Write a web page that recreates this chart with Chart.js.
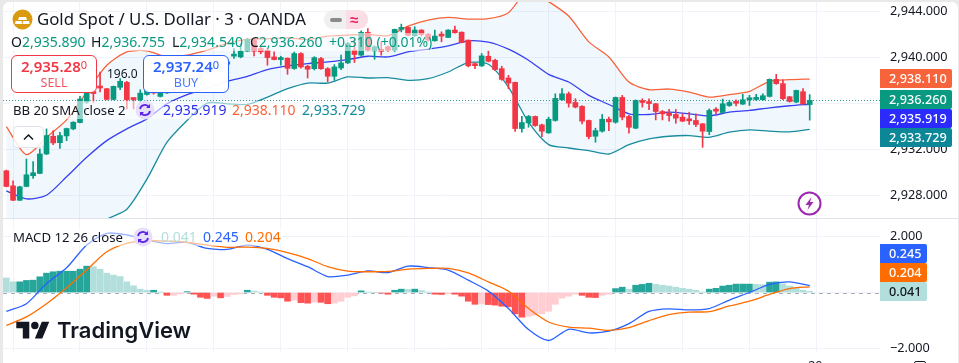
<!DOCTYPE html>
<html>
<head>
<meta charset="utf-8">
<script src="https://cdn.jsdelivr.net/npm/chart.js@4"></script>
<style>
  html, body { margin: 0; padding: 0; width: 959px; height: 363px; overflow: hidden; background: #e9e9e9; }
  body { font-family: "Noto Sans", sans-serif; color: #131722; }
  #frame { position: absolute; left: 3px; top: 2px; width: 955px; height: 361px; background: #fff; border-radius: 6px 6px 0 0; }
  canvas { position: absolute; left: 3px; }
  .txt { position: absolute; white-space: pre; line-height: 18px; font-size: 14px; }
  .bg { position: absolute; height: 18px; background: rgba(255,255,255,.55); }
  .g { color: #089981; }
  .tag { position: absolute; left: 880px; width: 72px; height: 19px; line-height: 19px; color: #fff; font-size: 12.7px; font-weight: 500; padding-left: 9px; box-sizing: border-box; border-radius: 0 2px 2px 0; }
  .box { position: absolute; top: 55px; width: 86px; height: 38px; box-sizing: border-box; border: 1px solid; border-radius: 6px; background: rgba(255,255,255,.97); text-align: center; font-size: 15px; line-height: 18px; padding-top: 1px; }
  .box sup { font-size: 11px; line-height: 0; vertical-align: 3px; }
  .box b { font-weight: 600; }
  .box div { font-size: 12.5px; line-height: 16px; opacity: .85; }
  svg { position: absolute; }
</style>
</head>
<body>
<div id="frame"></div>
<canvas id="graficoPrecio" width="956" height="216" style="top:2px"></canvas>
<canvas id="graficoMacd" width="956" height="133" style="top:219px"></canvas>
<div style="position:absolute;left:3px;top:218px;width:955px;height:1px;background:#e0e3eb"></div>

<!-- leyenda superior -->
<svg style="left:12px;top:9px" width="21" height="21" viewBox="0 0 21 21"><circle cx="10.5" cy="10.5" r="10" fill="#d99a10"/><path d="M7 8h7l1 3H6zM3.5 12h6l.7 3H3zM11 12h6l.7 3H10.500z" fill="#fff"/></svg>
<div class="txt" style="left:37px;top:9px;font-size:16.8px;line-height:20px">Gold Spot / U.S. Dollar · 3 · OANDA</div>
<div style="position:absolute;left:324px;top:10px;width:22px;height:19px;background:#f0f0f0;border-radius:9px 0 0 9px"></div>
<div style="position:absolute;left:346px;top:10px;width:22px;height:19px;background:#fbdde5;border-radius:0 9px 9px 0"></div>
<div style="position:absolute;left:330px;top:18px;width:12px;height:4px;background:#8a8a8a;border-radius:2px"></div>
<div class="txt" style="left:350px;top:10px;color:#e91e63;font-size:15px;font-weight:600">≈</div>

<div class="bg" style="left:10px;top:33px;width:422px"></div>
<div class="txt" style="left:11px;top:33px">O<span class="g">2,935.890</span></div>
<div class="txt" style="left:91px;top:33px">H<span class="g">2,936.755</span></div>
<div class="txt" style="left:172px;top:33px">L<span class="g">2,934.540</span></div>
<div class="txt" style="left:250px;top:33px">C<span class="g">2,936.260</span></div>
<div class="txt g" style="left:329px;top:33px">+0.310 (+0.01%)</div>

<div class="box" style="left:11px;color:#f23645;border-color:#f23645"><b>2,935.28</b><sup>0</sup><div>SELL</div></div>
<div class="txt" style="left:107px;top:65px;font-size:12px">196.0</div>
<div class="box" style="left:143px;color:#2962ff;border-color:#2962ff"><b>2,937.24</b><sup>0</sup><div>BUY</div></div>

<div class="bg" style="left:10px;top:101px;width:356px"></div>
<div class="txt" style="left:13px;top:101px;font-size:13.2px">BB 20 SMA close 2</div>
<div class="txt" style="left:163px;top:101px;color:#2f2fe8">2,935.919</div>
<div class="txt" style="left:232px;top:101px;color:#f7633a">2,938.110</div>
<div class="txt" style="left:302px;top:101px;color:#0f8a9b">2,933.729</div>
<svg style="left:135px;top:100px" width="20" height="20" viewBox="0 0 20 20"><circle cx="10" cy="10" r="9.500" fill="#e6dffb"/><path d="M5 9a5 5 0 0 1 9-2M15 11a5 5 0 0 1-9 2" fill="none" stroke="#5b21e6" stroke-width="1.800"/><path d="M15 4v4h-4zM5 16v-4h4z" fill="#5b21e6"/></svg>

<div style="position:absolute;left:13px;top:126px;width:31px;height:22px;box-sizing:border-box;background:rgba(255,255,255,.85);border:1px solid #e0e3eb;border-radius:4px"></div>
<svg style="left:23px;top:133px" width="11" height="8" viewBox="0 0 11 8"><path d="M1 6.500l4.500-4.500 4.500 4.500" fill="none" stroke="#131722" stroke-width="1.500"/></svg>

<svg style="left:797px;top:191px" width="25" height="25" viewBox="0 0 25 25"><circle cx="12.500" cy="12.500" r="11" fill="#fff" stroke="#9c27b0" stroke-width="2"/><path d="M14.500 6l-6 8h3.500l-1.500 5 6-8h-3.500z" fill="#9c27b0"/></svg>

<!-- etiquetas de precio -->
<div class="tag" style="top:69px;background:#f7633a">2,938.110</div>
<div class="tag" style="top:90px;background:#089981">2,936.260</div>
<div class="tag" style="top:109px;background:#2b2bff">2,935.919</div>
<div class="tag" style="top:128px;background:#0b8797">2,933.729</div>

<!-- leyenda MACD -->
<div class="bg" style="left:10px;top:228px;width:272px"></div>
<div class="txt" style="left:13px;top:228px;font-size:13.2px">MACD 12 26 close</div>
<div class="txt" style="left:161px;top:228px;color:#b2dfdb">0.041</div>
<div class="txt" style="left:203px;top:228px;color:#2962ff">0.245</div>
<div class="txt" style="left:245px;top:228px;color:#ff6d00">0.204</div>
<svg style="left:133px;top:227px" width="20" height="20" viewBox="0 0 20 20"><circle cx="10" cy="10" r="9.500" fill="#e6dffb"/><path d="M5 9a5 5 0 0 1 9-2M15 11a5 5 0 0 1-9 2" fill="none" stroke="#5b21e6" stroke-width="1.800"/><path d="M15 4v4h-4zM5 16v-4h4z" fill="#5b21e6"/></svg>

<div class="tag" style="top:244px;width:47px;background:#2962ff">0.245</div>
<div class="tag" style="top:263px;width:47px;background:#ff6d00">0.204</div>
<div class="tag" style="top:282px;width:47px;background:#b2dfdb;color:#131722">0.041</div>

<!-- logo -->
<svg style="left:16px;top:318px" width="34" height="26" viewBox="0 0 36 28"><path d="M14 22H7V11H0V4h14v18zM28 22h-8l7.500-18h8L28 22z" fill="#131722"/><circle cx="20" cy="8" r="4" fill="#131722"/></svg>
<div class="txt" style="left:57px;top:316px;font-family:Inter;font-weight:600;font-size:22px;line-height:28px">TradingView</div>

<!-- eje de tiempo, cortado por el borde inferior -->
<div class="txt" style="left:808px;top:356px;font-size:12.7px">20</div>
<div style="position:absolute;left:914px;top:361px;width:10px;height:8px;border:1px solid #131722;border-radius:2px"></div>

<script>
// Velas de 3 minutos
const aperturas = [
  2930.14,2928.83,2927.58,2928.78,2929.71,2929.91,2931.60,2933.14,2932.58,2933.17,
  2933.78,2934.33,2936.11,2936.95,2937.38,2937.27,2936.34,2937.39,2937.82,2936.37,
  2936.31,2936.77,2937.15,2936.60,2936.90,2937.30,2937.10,2937.80,2938.20,2938.00,
  2938.60,2939.00,2938.80,2939.40,2940.10,2940.03,2940.53,2941.49,2940.76,2940.61,
  2940.03,2939.80,2939.92,2939.02,2940.32,2939.22,2939.01,2939.89,2939.01,2938.35,
  2939.07,2939.51,2940.61,2940.18,2942.16,2940.56,2940.56,2940.91,2940.61,2942.42,
  2942.59,2941.87,2942.36,2942.01,2941.43,2941.87,2941.72,2942.36,2942.18,2941.49,
  2939.30,2939.25,2940.09,2939.74,2939.01,2938.20,2937.82,2933.81,2934.30,2934.86,
  2934.13,2933.43,2934.51,2936.31,2936.83,2936.07,2935.73,2934.51,2933.14,2933.58,
  2934.62,2934.36,2936.51,2934.86,2933.84,2936.17,2936.07,2935.96,2935.29,2935.15,
  2935.03,2934.80,2934.51,2934.51,2934.22,2933.55,2935.47,2935.20,2935.81,2936.07,
  2935.93,2936.31,2936.34,2936.31,2936.60,2938.08,2937.71,2936.57,2936.11,2937.01,2935.89
];
const maximos = [
  2930.20,2929.27,2928.80,2931.16,2930.93,2932.03,2933.78,2933.63,2933.49,2933.85,
  2934.40,2936.60,2937.10,2937.00,2938.72,2937.30,2937.50,2938.14,2937.90,2936.40,
  2937.18,2937.25,2937.30,2937.00,2937.40,2937.40,2937.90,2938.30,2938.30,2938.70,
  2939.10,2939.10,2939.50,2939.80,2940.76,2941.20,2941.65,2941.60,2940.90,2940.75,
  2940.47,2940.09,2939.95,2940.45,2940.40,2939.30,2940.05,2940.00,2939.10,2939.36,
  2940.18,2941.30,2941.55,2942.30,2942.50,2941.00,2941.34,2941.00,2942.45,2942.88,
  2942.65,2942.65,2942.40,2942.05,2942.36,2942.21,2942.40,2942.71,2942.20,2941.50,
  2939.51,2940.32,2940.53,2939.85,2939.22,2938.43,2937.85,2934.86,2934.95,2934.90,
  2934.20,2934.80,2936.83,2937.27,2936.98,2936.40,2935.80,2934.55,2933.84,2935.03,
  2934.80,2936.55,2936.69,2934.95,2936.30,2936.40,2936.40,2936.00,2935.38,2935.47,
  2935.47,2935.10,2935.23,2935.09,2934.25,2935.52,2935.62,2936.37,2936.25,2936.31,
  2936.78,2936.69,2936.78,2936.83,2938.12,2938.52,2938.05,2936.60,2937.15,2937.27,2936.755
];
const minimos = [
  2928.75,2927.55,2927.55,2928.75,2929.47,2929.88,2931.55,2932.41,2932.09,2932.76,
  2933.70,2934.30,2936.00,2936.10,2936.98,2936.30,2936.30,2937.18,2935.52,2935.52,
  2935.52,2936.70,2936.80,2936.55,2936.85,2937.00,2937.05,2937.70,2937.90,2937.95,
  2938.50,2938.70,2938.70,2939.30,2939.89,2939.95,2940.50,2940.12,2940.30,2939.31,
  2939.78,2939.31,2938.52,2938.95,2939.05,2938.20,2938.90,2938.95,2937.85,2938.00,
  2938.93,2939.45,2939.54,2940.10,2940.55,2939.83,2940.18,2940.50,2940.50,2942.21,
  2941.85,2941.80,2941.85,2941.40,2941.40,2941.34,2941.70,2942.10,2941.25,2939.16,
  2939.01,2939.20,2939.60,2938.85,2938.00,2937.27,2933.55,2933.49,2933.92,2934.00,
  2933.11,2933.40,2934.45,2936.25,2935.67,2935.60,2934.22,2932.91,2932.62,2933.50,
  2933.63,2934.27,2934.56,2933.40,2933.80,2935.67,2935.44,2934.56,2934.56,2934.45,
  2934.27,2934.40,2934.16,2933.98,2932.18,2933.28,2935.09,2935.15,2935.73,2935.78,
  2935.90,2935.81,2936.25,2936.25,2936.55,2937.65,2936.31,2936.10,2936.05,2935.90,2934.54
];
const cierres = [
  2928.78,2927.58,2928.75,2929.79,2929.97,2931.60,2933.20,2932.56,2933.20,2933.81,
  2934.36,2936.37,2936.89,2936.85,2937.33,2936.34,2937.47,2937.91,2936.31,2936.33,
  2936.89,2937.18,2936.90,2936.89,2937.30,2937.10,2937.80,2938.20,2938.00,2938.60,
  2939.00,2938.80,2939.40,2939.60,2940.15,2940.53,2941.55,2940.53,2940.47,2939.97,
  2939.80,2939.83,2939.04,2940.32,2939.16,2938.96,2939.97,2939.01,2938.35,2939.16,
  2939.51,2941.20,2940.24,2942.16,2940.61,2940.91,2940.52,2940.61,2942.42,2942.56,
  2941.92,2942.36,2941.98,2941.49,2941.84,2941.84,2942.36,2942.13,2941.28,2939.25,
  2939.27,2940.12,2939.65,2938.93,2938.08,2937.76,2933.81,2934.33,2934.86,2934.07,
  2933.58,2934.62,2936.43,2936.83,2936.02,2935.67,2934.45,2933.11,2933.63,2934.62,
  2934.39,2936.51,2934.80,2933.92,2936.25,2936.07,2935.98,2935.29,2935.09,2934.94,
  2934.71,2934.45,2934.48,2934.16,2933.58,2935.38,2935.32,2935.96,2936.07,2936.00,
  2936.31,2936.40,2936.40,2936.66,2938.08,2937.71,2936.40,2936.16,2937.12,2935.96,2936.26
];

// Lineas leidas cada tres velas
const barrasLinea = [0,3,6,9,12,15,18,21,24,27,30,33,36,39,42,45,48,51,54,57,60,63,66,69,72,75,78,81,84,87,90,93,96,99,102,105,108,111,114,117,120];
const bbSuperior = [
  2933.98,2931.54,2933.05,2934.56,2936.98,2939.31,2940.47,2940.56,2940.03,2940.18,2940.61,2941.20,2941.55,2941.60,2941.69,2941.55,
  2941.84,2941.92,2941.98,2941.87,2942.71,2943.23,2943.46,2943.32,2943.35,2943.87,2945.85,2944.83,2943.58,2941.34,2940.03,2937.85,
  2937.18,2937.24,2936.98,2936.54,2936.75,2937.04,2937.91,2938.05,2938.11
];
const bbMedia = [
  2928.40,2927.70,2928.02,2929.62,2931.31,2932.76,2933.78,2934.65,2935.96,2936.75,2937.33,2937.91,2938.35,2938.93,2939.25,2939.45,
  2939.60,2939.80,2940.09,2940.03,2940.47,2940.70,2940.99,2941.43,2941.31,2940.70,2939.74,2938.52,2937.85,2936.69,2935.90,2935.09,
  2935.03,2935.23,2935.09,2934.91,2935.23,2935.38,2935.61,2935.79,2935.919
];
const bbInferior = [
  2922.87,2919.38,2918.80,2921.71,2924.62,2925.93,2926.80,2929.42,2932.62,2934.51,2936.02,2935.96,2935.90,2936.54,2937.27,2937.76,
  2937.76,2938.29,2938.20,2938.23,2938.00,2938.14,2938.72,2939.54,2939.39,2937.41,2934.36,2932.41,2932.12,2931.89,2931.60,2932.41,
  2932.91,2933.14,2933.20,2933.05,2933.49,2933.69,2933.58,2933.52,2933.729
];
const macdLinea = [
  -0.67,-0.40,0.32,0.88,1.69,2.11,2.05,1.87,1.74,1.79,1.57,1.54,1.69,1.54,1.21,0.92,
  0.57,0.62,0.77,0.71,0.94,0.89,0.80,0.44,0.05,-0.57,-1.32,-1.71,-1.31,-1.44,-1.38,-1.11,
  -0.67,-0.58,-0.62,-0.57,-0.27,0.00,0.29,0.38,0.245
];
const senalLinea = [
  -1.17,-0.87,-0.40,0.17,0.80,1.45,1.75,1.85,1.83,1.79,1.69,1.61,1.62,1.57,1.42,1.21,
  0.92,0.76,0.74,0.75,0.83,0.86,0.86,0.70,0.38,0.05,-0.57,-1.05,-1.23,-1.27,-1.35,-1.25,
  -1.00,-0.79,-0.70,-0.68,-0.48,-0.31,-0.07,0.14,0.204
];
const histograma = [
  0.52,0.38,0.38,0.43,0.44,0.56,0.69,0.74,0.76,0.76,
  0.76,0.83,0.94,0.92,0.83,0.69,0.62,0.57,0.38,0.24,
  0.12,0.08,0.08,0.01,-0.10,-0.10,-0.05,0.03,-0.06,-0.17,
  -0.21,-0.13,-0.19,-0.14,-0.07,-0.05,0.08,0.05,0.02,-0.10,
  -0.17,-0.19,-0.31,-0.27,-0.36,-0.38,-0.34,-0.35,-0.40,-0.38,
  -0.31,-0.17,-0.12,0.06,0.01,0,-0.02,-0.06,0.08,0.12,
  0.11,0.12,0.07,0.01,-0.06,-0.07,-0.04,-0.06,-0.13,-0.31,
  -0.42,-0.40,-0.43,-0.45,-0.49,-0.51,-0.76,-0.88,-0.85,-0.81,
  -0.76,-0.67,-0.42,-0.20,-0.13,-0.06,-0.10,-0.17,-0.18,-0.10,
  -0.06,0.14,0.19,0.12,0.26,0.29,0.33,0.29,0.26,0.23,
  0.19,0.15,0.12,0.08,0.01,0.12,0.15,0.23,0.26,0.30,
  0.30,0.30,0.29,0.28,0.37,0.38,0.31,0.23,0.19,0.08,0.041
];

const ticksPrecio = [2944, 2940, 2936, 2932, 2928];
const ticksMacd = [2, 0, -2];
const ultimoCierre = 2936.26;

// Colores
const verde = "#089981";
const rojo = "#f23645";
const colorGrid = "#f0f3fa";
const fuente = { family: "Noto Sans", size: 12.7 };

// 131 posiciones: las velas y el hueco a la derecha
const etiquetas = Array.from({ length: 131 }, (_, i) => String(i));

const puntos = (valores) => barrasLinea.map((b, k) => ({ x: etiquetas[b], y: valores[k] }));
const colorVela = aperturas.map((o, i) => (cierres[i] >= o ? verde : rojo));

const colorHist = histograma.map((h, i) => {
  const previo = i ? histograma[i - 1] : h + 1;
  if (h >= 0) return h >= previo ? "#26a69a" : "#b2dfdb";
  return h < previo ? "#ff5252" : "#ffcdd2";
});

const ejeX = {
  offset: true,
  border: { display: false },
  ticks: { display: false, autoSkip: false },
  grid: {
    offset: false,
    drawTicks: false,
    color: (ctx) => (ctx.index % 10 === 1 ? colorGrid : "transparent")
  }
};

function ejeY(min, max, valores, formato) {
  return {
    position: "right",
    min, max,
    border: { display: false },
    grid: { color: colorGrid, drawTicks: false },
    ticks: { font: fuente, color: "#131722", padding: 10, callback: formato, autoSkip: false },
    afterBuildTicks: (eje) => { eje.ticks = valores.map((v) => ({ value: v })); },
    afterFit: (eje) => { eje.width = 79; eje.paddingTop = 0; eje.paddingBottom = 0; }
  };
}

const lineaHorizontal = (id, valor, color, guiones) => ({
  id,
  beforeDatasetsDraw(chart) {
    const { ctx, chartArea, scales } = chart;
    const y = Math.round(scales.y.getPixelForValue(valor)) + 0.5;
    ctx.save();
    ctx.strokeStyle = color;
    ctx.setLineDash(guiones);
    ctx.beginPath();
    ctx.moveTo(chartArea.left, y);
    ctx.lineTo(chartArea.right, y);
    ctx.stroke();
    ctx.restore();
  }
});

const linea = (valores, color, extra) => ({
  type: "line",
  data: puntos(valores),
  borderColor: color,
  borderWidth: 1.3,
  pointRadius: 0,
  tension: 0.25,
  order: 3,
  ...extra
});

new Chart(document.getElementById("graficoPrecio"), {
  type: "bar",
  data: {
    labels: etiquetas,
    datasets: [
      linea(bbSuperior, "#f7633a", { fill: { target: "+2" }, backgroundColor: "rgba(33,150,243,0.065)" }),
      linea(bbMedia, "#3a3af0"),
      linea(bbInferior, "#1a8c9c"),
      {
        data: maximos.map((h, i) => [minimos[i], h]),
        backgroundColor: colorVela,
        barThickness: 1,
        grouped: false,
        order: 2
      },
      {
        data: aperturas.map((o, i) => [o, cierres[i]]),
        backgroundColor: colorVela,
        barThickness: 5,
        minBarLength: 2,
        grouped: false,
        order: 1
      }
    ]
  },
  options: {
    responsive: false,
    animation: false,
    layout: { padding: 0 },
    plugins: { legend: { display: false }, tooltip: { enabled: false } },
    scales: {
      x: ejeX,
      y: ejeY(2926.04, 2944.8, ticksPrecio, (v) => v.toLocaleString("en-US", { minimumFractionDigits: 3 }))
    }
  },
  plugins: [lineaHorizontal("ultimoPrecio", ultimoCierre, "#3a9c8c", [1, 2])]
});

new Chart(document.getElementById("graficoMacd"), {
  type: "bar",
  data: {
    labels: etiquetas,
    datasets: [
      linea(macdLinea, "#2962ff", { order: 1 }),
      linea(senalLinea, "#ff6d00", { order: 0 }),
      { data: histograma, backgroundColor: colorHist, barThickness: 6, order: 2 }
    ]
  },
  options: {
    responsive: false,
    animation: false,
    layout: { padding: 0 },
    plugins: { legend: { display: false }, tooltip: { enabled: false } },
    scales: {
      x: ejeX,
      y: ejeY(-2.12, 2.62, ticksMacd, (v) => (v === 0 ? "" : (v < 0 ? "\u2212" : "") + Math.abs(v).toFixed(3)))
    }
  },
  plugins: [lineaHorizontal("ceroMacd", 0, "#a9adb8", [4, 4])]
});
</script>
</body>
</html>
